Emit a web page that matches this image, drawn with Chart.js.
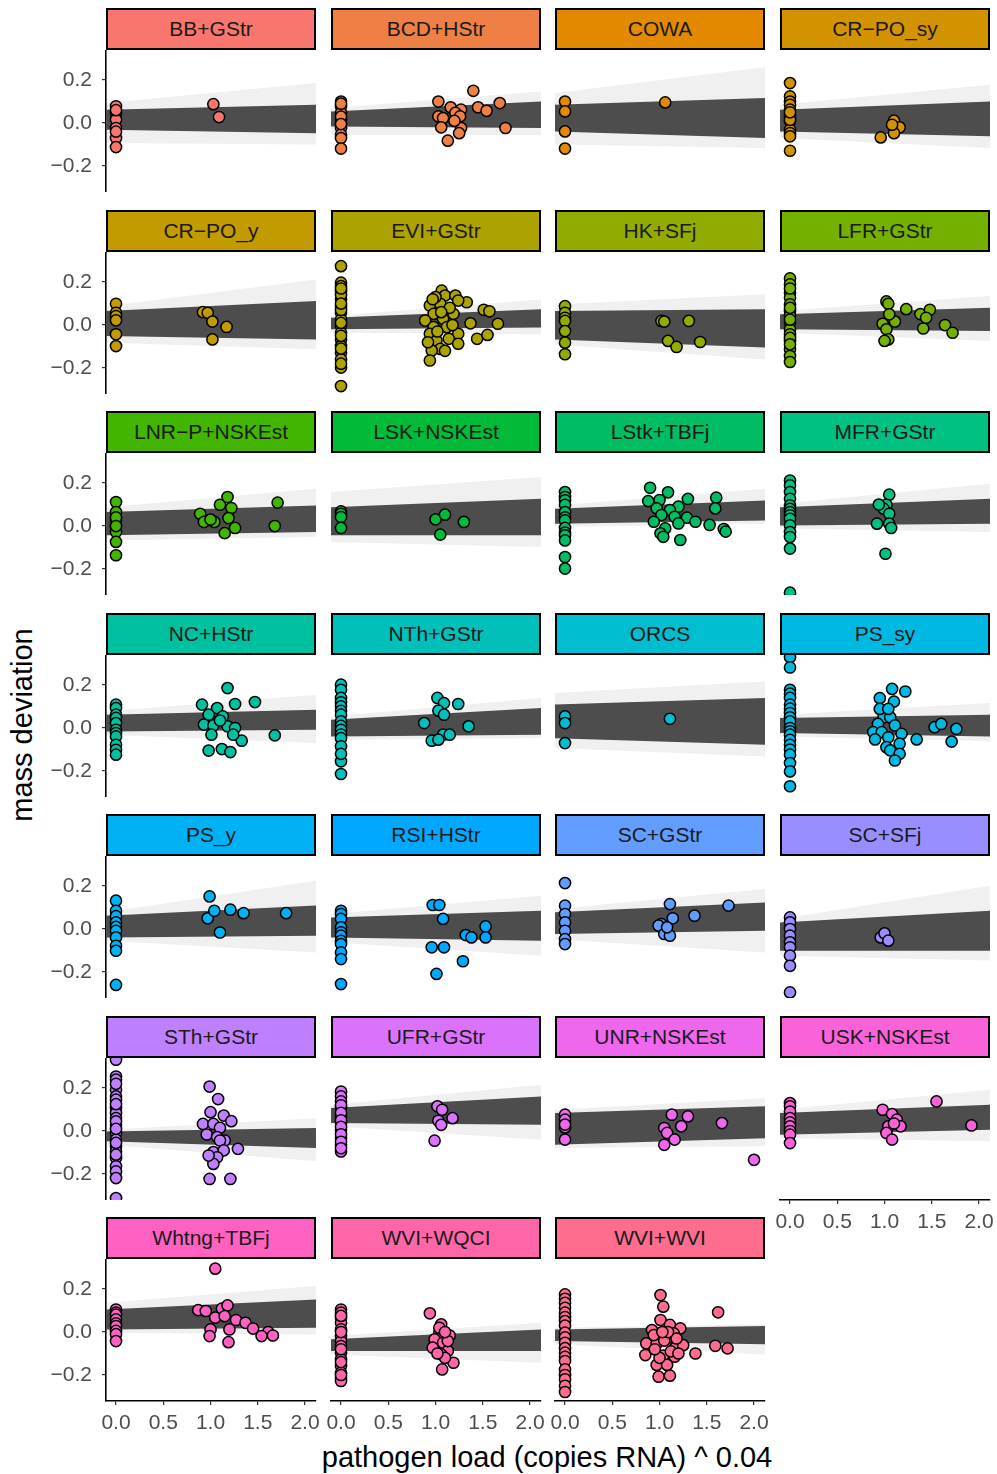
<!DOCTYPE html>
<html>
<head>
<meta charset="utf-8">
<script src="https://cdn.jsdelivr.net/npm/chart.js@4.4.0/dist/chart.umd.min.js"></script>
<style>
body { margin: 0; background: #fff; width: 997px; height: 1474px; position: relative; overflow: hidden; font-family: "Liberation Sans", Arial, sans-serif; }
.strip { position: absolute; box-sizing: border-box; border: 2px solid #000; width: 210px; height: 42px; text-align: center; line-height: 38px; font-size: 21px; color: #1a1a1a; white-space: nowrap; }
canvas { position: absolute; }
.ttl { position: absolute; font-size: 29px; color: #000; white-space: nowrap; }
</style>
</head>
<body>
<div class="ttl" style="left:22px;top:725px;transform:translate(-50%,-50%) rotate(-90deg);">mass deviation</div>
<div class="ttl" style="left:547px;top:1457px;transform:translate(-50%,-50%);">pathogen load (copies RNA) ^ 0.04</div>
<script>
// facet labels, in panel order (4 per row)
var panelNames = ["BB+GStr", "BCD+HStr", "COWA", "CR\u2212PO_sy", "CR\u2212PO_y", "EVI+GStr", "HK+SFj", "LFR+GStr",
    "LNR\u2212P+NSKEst", "LSK+NSKEst", "LStk+TBFj", "MFR+GStr", "NC+HStr", "NTh+GStr", "ORCS", "PS_sy",
    "PS_y", "RSI+HStr", "SC+GStr", "SC+SFj", "STh+GStr", "UFR+GStr", "UNR+NSKEst", "USK+NSKEst",
    "Whtng+TBFj", "WVI+WQCI", "WVI+WVI"];

var xTickVals = [0, 0.5, 1, 1.5, 2];
var xTickLabels = ["0.0", "0.5", "1.0", "1.5", "2.0"];
var yTickVals = [-0.2, 0, 0.2];
var yTickLabels = ["\u22120.2", "0.0", "0.2"];

// points [load, mass deviation] per panel
var bbGStr = [[0,0.078],[0,0.047],[0,0.016],[0,-0.023],[0,-0.07],[0,-0.112],[0,0.06],[0,-0.04],[1.03,0.088],[1.09,0.028]];
var bcdHStr = [[0,0.10],[0,0.078],[0,0.047],[0,0.016],[0,-0.023],[0,-0.054],[0,-0.07],[0,-0.119],[0,0.09],[0,0.03],[0,-0.005],
    [1.03,0.10],[1.16,0.073],[1.27,0.062],[1.40,0.15],[1.68,0.093],[1.45,0.073],[1.54,0.057],[1.03,0.031],[1.21,0.047],[1.08,0.023],
    [1.26,0.031],[1.06,-0.02],[1.27,-0.023],[1.25,-0.047],[1.13,-0.082],[1.74,-0.023],[1.20,0.01]];
var cowa = [[0,0.10],[0,0.054],[0,-0.039],[0,-0.119],[1.06,0.096]];
var crPoSy = [[0,0.186],[0,0.124],[0,0.10],[0,0.085],[0,0.062],[0,0.039],[0,0.023],[0,0.008],[0,-0.031],[0,-0.047],[0,-0.062],[0,-0.129],[0,0.015],[0,0.05],
    [1.10,0.011],[1.16,-0.02],[1.10,-0.047],[0.96,-0.067],[1.08,-0.008]];
var crPoY = [[0,0.099],[0,0.057],[0,0.042],[0,0.022],[0,-0.043],[0,-0.098],[0.92,0.06],[0.97,0.057],[1.02,0.016],[1.17,-0.009],[1.02,-0.067]];
var eviGStr = [[0,0.274],[0,0.197],[0,0.181],[0,0.158],[0,0.119],[0,0.088],[0,0.057],[0,0.026],[0,-0.005],[0,-0.036],[0,-0.067],[0,-0.098],
    [0,-0.129],[0,-0.16],[0,-0.198],[0,-0.284],[0,0.14],[0,0.07],[0,0.01],[0,-0.05],[0,-0.11],[0,-0.18],[0,0.17],[0,0.10],
    [1.065,0.16],[1.10,0.137],[1.21,0.137],[1.33,0.106],[1.24,0.114],[0.94,0.091],[1.05,0.099],[0.98,0.052],[1.08,0.029],[1.19,0.052],
    [0.89,0.021],[0.98,-0.01],[1.12,-0.01],[1.24,-0.041],[0.94,-0.041],[1.01,-0.072],[1.14,-0.064],[1.24,-0.087],[1.05,-0.111],[0.96,-0.119],
    [0.94,-0.165],[1.51,0.071],[1.57,0.064],[1.37,0.008],[1.66,0.006],[1.44,-0.064],[1.55,-0.046],
    [1.00,0.13],[1.15,0.08],[1.02,-0.03],[1.10,-0.12],[0.97,0.12],[1.18,0.0],[0.92,-0.08],[1.06,0.06]];
var hkSFj = [[0,0.088],[0,0.057],[0,0.034],[0,0.019],[0,-0.028],[0,-0.082],[0,-0.136],
    [1.02,0.019],[1.05,0.016],[1.31,0.019],[1.09,-0.074],[1.18,-0.102],[1.43,-0.079]];
var lfrGStr = [[0,0.217],[0,0.189],[0,0.15],[0,0.127],[0,0.096],[0,0.065],[0,0.042],[0,0.011],[0,-0.02],[0,-0.043],[0,-0.074],[0,-0.113],
    [0,-0.144],[0,-0.172],[0,0.17],[0,0.08],[0,0.025],[0,-0.06],[0,-0.09],
    [1.02,0.11],[1.04,0.099],[1.23,0.074],[1.38,0.051],[1.48,0.071],[1.41,-0.016],[1.64,0.0],[1.72,-0.036],[0.98,0.006],[1.11,0.016],
    [1.02,-0.02],[1.04,-0.067],[1.00,-0.074],[1.44,0.034],[1.05,0.05]];
var lnrPNskest = [[0,0.112],[0,0.065],[0,0.026],[0,-0.005],[0,-0.028],[0,-0.074],[0,-0.136],[0,0.04],[0,0.0],
    [0.89,0.057],[0.93,0.019],[1.04,0.019],[1.10,0.099],[1.18,0.135],[1.22,0.084],[1.19,0.037],[1.26,-0.009],[1.15,-0.033],
    [1.71,0.109],[1.68,0.0],[1.00,0.03]];
var lskNskest = [[0,0.068],[0,0.057],[0,0.042],[0,-0.009],[1.00,0.031],[1.10,0.053],[1.30,0.019],[1.05,-0.04]];
var lstkTbfj = [[0,0.158],[0,0.135],[0,0.12],[0,0.099],[0,0.065],[0,0.04],[0,0.026],[0,-0.009],[0,-0.03],[0,-0.043],[0,-0.067],[0,-0.144],[0,-0.198],
    [0.90,0.178],[1.09,0.157],[1.00,0.121],[0.88,0.116],[1.20,0.09],[1.30,0.126],[0.97,0.082],[1.11,0.074],[1.02,0.051],[1.16,0.043],
    [1.29,0.039],[1.38,0.02],[0.94,0.02],[1.06,-0.011],[1.20,0.012],[1.01,-0.034],[1.04,-0.05],[1.22,-0.065],[1.60,0.132],[1.59,0.082],
    [1.53,0.005],[1.68,-0.014],[1.70,-0.026]];
var mfrGStr = [[0,0.212],[0,0.189],[0,0.158],[0,0.127],[0,0.096],[0,0.08],[0,0.065],[0,0.05],[0,0.034],[0,0.003],[0,-0.028],[0,-0.051],[0,-0.105],[0,-0.31],
    [1.05,0.146],[1.02,0.099],[0.99,0.081],[1.05,0.057],[0.92,0.011],[1.05,0.011],[1.07,-0.009],[1.01,-0.129],[0.94,0.10]];
var ncHStr = [[0,0.109],[0,0.093],[0,0.062],[0,0.047],[0,0.023],[0,-0.008],[0,-0.023],[0,-0.039],[0,-0.078],[0,-0.101],[0,-0.124],
    [0.91,0.109],[1.18,0.186],[1.26,0.112],[1.47,0.121],[1.07,0.093],[0.98,0.062],[1.13,0.054],[0.93,0.016],[1.03,0.012],[1.18,0.008],
    [1.26,0.0],[1.01,-0.031],[1.33,-0.059],[1.68,-0.034],[0.98,-0.105],[1.12,-0.098],[1.21,-0.112],[1.24,-0.031],[1.10,0.035]];
var nthGStr = [[0,0.202],[0,0.178],[0,0.14],[0,0.12],[0,0.101],[0,0.08],[0,0.062],[0,0.031],[0,0.01],[0,-0.008],[0,-0.03],[0,-0.047],
    [0,-0.085],[0,-0.155],[0,-0.214],[0,-0.12],
    [1.02,0.14],[1.09,0.116],[1.24,0.112],[1.03,0.081],[1.09,0.062],[0.88,0.023],[1.35,0.008],[1.08,-0.031],[0.96,-0.059],[1.03,-0.054],[1.15,-0.031]];
var orcs = [[0,0.054],[0,0.023],[0,-0.07],[1.11,0.043]];
var psSy = [[0,0.33],[0,0.282],[0,0.178],[0,0.16],[0,0.14],[0,0.109],[0,0.09],[0,0.07],[0,0.05],[0,0.031],[0,0.0],[0,-0.015],[0,-0.031],
    [0,-0.055],[0,-0.078],[0,-0.10],[0,-0.124],[0,-0.163],[0,-0.202],[0,-0.271],
    [1.08,0.182],[1.22,0.17],[0.95,0.139],[1.10,0.123],[0.99,0.05],[1.06,0.05],[0.93,0.019],[1.11,0.012],[0.88,-0.019],[0.97,-0.019],
    [1.04,-0.043],[1.18,-0.027],[1.34,-0.053],[0.90,-0.053],[1.02,-0.089],[1.16,-0.073],[1.06,-0.104],[1.16,-0.12],[1.11,-0.151],
    [1.53,0.004],[1.60,0.019],[1.76,-0.004],[1.71,-0.063],[0.95,0.089],[1.04,0.089]];
var psY = [[0,0.132],[0,0.085],[0,0.06],[0,0.031],[0,0.01],[0,-0.008],[0,-0.039],[0,-0.078],[0,-0.101],[0,-0.26],
    [0.99,0.152],[0.97,0.05],[1.04,0.085],[1.21,0.09],[1.35,0.074],[1.10,-0.016],[1.80,0.074]];
var rsiHStr = [[0,0.085],[0,0.07],[0,0.047],[0,0.008],[0,-0.015],[0,-0.031],[0,-0.055],[0,-0.07],[0,-0.109],[0,-0.14],[0,-0.256],
    [0.97,0.112],[1.04,0.112],[1.08,0.047],[1.53,0.012],[1.32,-0.028],[1.38,-0.039],[1.53,-0.039],[0.96,-0.085],[1.09,-0.085],[1.29,-0.15],[1.01,-0.209]];
var scGStr = [[0,0.214],[0,0.109],[0,0.07],[0,0.031],[0,-0.008],[0,-0.047],[0,-0.07],
    [1.11,0.116],[1.73,0.109],[1.37,0.062],[1.14,0.05],[1.02,0.023],[0.99,0.016],[1.05,-0.023],[1.11,-0.031],[1.08,0.008]];
var scSFj = [[0,0.054],[0,0.031],[0,0.0],[0,-0.031],[0,-0.062],[0,-0.085],[0,-0.124],[0,-0.171],[0,-0.295],
    [0.96,-0.039],[1.00,-0.02],[1.04,-0.054]];
var sthGStr = [[0,0.332],[0,0.254],[0,0.239],[0,0.192],[0,0.161],[0,0.146],[0,0.107],[0,0.084],[0,0.06],[0,0.029],[0,-0.009],[0,-0.04],
    [0,-0.071],[0,-0.095],[0,-0.126],[0,-0.164],[0,-0.188],[0,-0.219],[0,-0.312],[0,0.22],[0,0.125],[0,0.045],[0,0.01],[0,-0.055],[0,-0.11],
    [0.99,0.207],[1.08,0.149],[1.00,0.088],[1.14,0.072],[1.22,0.046],[0.92,0.033],[1.03,0.033],[1.10,0.015],[0.96,-0.016],[1.07,-0.028],
    [1.15,-0.044],[1.10,-0.044],[1.29,-0.083],[1.03,-0.098],[1.14,-0.09],[1.07,-0.122],[1.03,-0.153],[0.99,-0.223],[1.21,-0.223],[0.98,-0.114]];
var ufrGStr = [[0,0.184],[0,0.161],[0,0.138],[0,0.107],[0,0.068],[0,0.037],[0,0.006],[0,-0.033],[0,-0.064],[0,-0.095],[0,0.12],[0,0.085],
    [0,0.05],[0,0.02],[0,-0.015],[0,-0.05],[0,-0.08],
    [1.02,0.115],[1.07,0.099],[1.18,0.06],[1.03,0.048],[1.06,0.029],[0.99,-0.045]];
var unrNskest = [[0,0.076],[0,0.053],[0,0.017],[0,-0.04],[0,0.03],
    [1.13,0.076],[1.30,0.068],[1.05,0.014],[1.23,0.022],[1.08,-0.009],[1.16,-0.04],[1.05,-0.064],[1.66,0.037],[2.00,-0.134]];
var uskNskest = [[0,0.13],[0,0.115],[0,0.091],[0,0.06],[0,0.04],[0,0.022],[0,0.0],[0,-0.017],[0,-0.056],
    [0.98,0.099],[1.08,0.079],[1.13,0.053],[1.04,0.022],[1.17,0.022],[1.02,-0.009],[1.08,-0.04],[1.55,0.138],[1.92,0.026],[1.10,0.035]];
var whtngTbfj = [[0,0.105],[0,0.09],[0,0.081],[0,0.059],[0,0.04],[0,0.028],[0,0.005],[0,-0.01],[0,-0.042],
    [1.05,0.295],[0.87,0.102],[0.95,0.098],[1.12,0.109],[1.18,0.124],[1.05,0.067],[1.15,0.074],[1.27,0.056],[1.37,0.043],[1.00,0.012],
    [1.20,0.012],[1.45,0.016],[1.61,0.0],[1.54,-0.019],[1.66,-0.016],[0.99,-0.019],[1.19,-0.047]];
var wviWqci = [[0,0.105],[0,0.09],[0,0.067],[0,0.043],[0,0.012],[0,-0.019],[0,-0.042],[0,-0.065],[0,-0.096],[0,-0.127],[0,-0.158],[0,-0.189],
    [0,-0.212],[0,-0.228],[0,0.075],[0,0.0],[0,-0.08],[0,-0.14],[0,-0.20],
    [0.94,0.087],[1.06,0.036],[1.15,-0.016],[1.04,-0.003],[0.99,-0.034],[1.08,-0.05],[0.97,-0.073],[1.13,-0.088],[1.06,-0.104],[1.19,-0.143],
    [1.07,-0.174],[1.13,-0.042],[1.04,0.02],[1.10,-0.12],[1.02,-0.10],[1.10,0.0]];
var wviWvi = [[0,0.175],[0,0.155],[0,0.136],[0,0.113],[0,0.09],[0,0.07],[0,0.051],[0,0.03],[0,-0.003],[0,-0.025],[0,-0.05],[0,-0.075],
    [0,-0.096],[0,-0.115],[0,-0.135],[0,-0.174],[0,-0.20],[0,-0.22],[0,-0.25],[0,-0.279],
    [1.01,0.172],[1.04,0.118],[1.01,0.056],[1.11,0.033],[1.22,0.017],[0.92,0.009],[0.86,-0.053],[0.97,-0.053],[1.08,-0.03],[1.16,-0.076],
    [1.25,-0.061],[1.38,-0.10],[0.85,-0.107],[1.04,-0.11],[1.16,-0.115],[0.97,-0.153],[1.08,-0.153],[0.99,-0.208],[1.11,-0.203],[1.62,0.092],
    [1.59,-0.064],[1.72,-0.076],[0.94,-0.014],[1.15,-0.006],[1.05,-0.04],[1.12,-0.09],[1.00,-0.12],[1.18,-0.03],[0.95,-0.08],[1.09,0.0],
    [1.20,-0.10],[1.03,0.0]];

var panelPoints = [bbGStr, bcdHStr, cowa, crPoSy, crPoY, eviGStr, hkSFj, lfrGStr, lnrPNskest, lskNskest, lstkTbfj, mfrGStr,
    ncHStr, nthGStr, orcs, psSy, psY, rsiHStr, scGStr, scSFj, sthGStr, ufrGStr, unrNskest, uskNskest, whtngTbfj, wviWqci, wviWvi];

// band of posterior lines: [left top, left bottom, right top, right bottom]
var coreBand = [[0.062,-0.031,0.085,-0.047],[0.054,-0.016,0.10,-0.023],[0.085,-0.039,0.116,-0.07],[0.062,-0.039,0.10,-0.062],
    [0.065,-0.051,0.112,-0.067],[0.034,-0.02,0.073,-0.012],[0.065,-0.067,0.073,-0.105],[0.05,-0.02,0.081,-0.028],
    [0.065,-0.043,0.096,-0.028],[0.088,-0.043,0.127,-0.043],[0.081,0.011,0.119,0.026],[0.088,0.003,0.127,0.011],
    [0.062,-0.016,0.085,-0.008],[0.039,-0.039,0.093,-0.031],[0.109,-0.047,0.14,-0.078],[0.047,-0.023,0.062,-0.039],
    [0.062,-0.039,0.109,-0.031],[0.054,-0.039,0.085,-0.054],[0.078,-0.023,0.124,-0.008],[0.031,-0.101,0.085,-0.101],
    [-0.002,-0.048,0.014,-0.079],[0.107,0.037,0.161,0.029],[0.084,-0.064,0.115,-0.033],[0.084,-0.017,0.122,0.006],
    [0.105,0.012,0.152,0.02],[-0.034,-0.088,0.012,-0.088],[0.012,-0.042,0.028,-0.057]];
var fringeBand = [[0.093,-0.093,0.186,-0.10],[0.07,-0.054,0.147,-0.057],[0.14,-0.10,0.26,-0.116],[0.085,-0.07,0.178,-0.116],
    [0.088,-0.082,0.212,-0.113],[0.042,-0.036,0.119,-0.043],[0.096,-0.09,0.143,-0.16],[0.065,-0.036,0.135,-0.074],
    [0.088,-0.067,0.174,-0.051],[0.158,-0.074,0.228,-0.098],[0.096,-0.005,0.174,0.011],[0.104,-0.012,0.197,-0.028],
    [0.078,-0.031,0.155,-0.07],[0.054,-0.054,0.14,-0.047],[0.163,-0.093,0.217,-0.132],[0.062,-0.039,0.116,-0.062],
    [0.078,-0.054,0.225,-0.109],[0.07,-0.062,0.155,-0.124],[0.093,-0.047,0.186,-0.109],[0.047,-0.124,0.202,-0.147],
    [0.006,-0.064,0.06,-0.141],[0.122,0.022,0.215,-0.04],[0.099,-0.079,0.153,-0.071],[0.099,-0.033,0.192,-0.048],
    [0.136,-0.003,0.214,-0.011],[-0.019,-0.104,0.043,-0.143],[0.02,-0.057,0.036,-0.104]];

var xMin = -0.106, xMax = 2.116, yMin = -0.321, yMax = 0.340;

var colLeft = [106, 331, 555, 780];
var panelW = 210, panelH = 142, stripH = 42;
var FONT = "'Liberation Sans', Arial, sans-serif";

// ggplot hue palette (hcl, c=100, l=65)
function hcl(h, c, l) {
    var hr = h * Math.PI / 180;
    var u = c * Math.cos(hr), v = c * Math.sin(hr);
    var Xn = 95.047, Yn = 100, Zn = 108.883;
    var Y = l > 8 ? Yn * Math.pow((l + 16) / 116, 3) : Yn * l / 903.3;
    var t = Xn + 15 * Yn + 3 * Zn;
    var up = u / (13 * l) + 4 * Xn / t, vp = v / (13 * l) + 9 * Yn / t;
    var X = 9 * Y * up / (4 * vp);
    var Z = -X / 3 - 5 * Y + 3 * Y / vp;
    X /= 100; Y /= 100; Z /= 100;
    var rgb = [3.240479 * X - 1.537150 * Y - 0.498535 * Z,
              -0.969256 * X + 1.875992 * Y + 0.041556 * Z,
               0.055648 * X - 0.204043 * Y + 1.057311 * Z];
    return "rgb(" + rgb.map(function (k) {
        k = k <= 0.0031308 ? 12.92 * k : 1.055 * Math.pow(k, 1 / 2.4) - 0.055;
        return Math.round(Math.max(0, Math.min(1, k)) * 255);
    }).join(",") + ")";
}

function bandLine(a, b, fill, bg, order) {
    return {
        type: "line", data: [{ x: xMin, y: a }, { x: xMax, y: b }],
        fill: fill, backgroundColor: bg, borderColor: "rgba(0,0,0,0)", borderWidth: 0,
        pointRadius: 0, order: order
    };
}

panelNames.forEach(function (name, i) {
    var r = Math.floor(i / 4), c = i % 4;
    var bottom = r == 6 || (r == 5 && c == 3);
    var left = c == 0;
    var top = Math.round(8 + 201.5 * r);
    var colour = hcl(15 + i * 360 / 27, 100, 65);

    var strip = document.createElement("div");
    strip.className = "strip";
    strip.style.left = colLeft[c] + "px";
    strip.style.top = top + "px";
    strip.style.background = colour;
    strip.textContent = name;
    document.body.appendChild(strip);

    var padL = left ? 80 : 20, padR = 20, padB = bottom ? 45 : 0;
    var w = panelW + padL + padR, h = panelH + padB;
    var cv = document.createElement("canvas");
    cv.width = w; cv.height = h;
    cv.style.width = w + "px"; cv.style.height = h + "px";
    cv.style.left = (colLeft[c] - padL) + "px";
    cv.style.top = (top + stripH) + "px";
    document.body.appendChild(cv);

    var core = coreBand[i], fr = fringeBand[i];

    new Chart(cv, {
        type: "scatter",
        data: {
            datasets: [
                {
                    type: "scatter",
                    data: panelPoints[i].map(function (p) { return { x: p[0], y: p[1] }; }),
                    backgroundColor: colour, borderColor: "#000", borderWidth: 1.5,
                    pointRadius: 5.6, order: 0
                },
                bandLine(core[0], core[2], "+1", "#4d4d4d", 1),
                bandLine(core[1], core[3], false, "#4d4d4d", 1),
                bandLine(fr[0], fr[2], "+1", "rgba(60,60,60,0.08)", 2),
                bandLine(fr[1], fr[3], false, "rgba(60,60,60,0.08)", 2)
            ]
        },
        options: {
            responsive: false,
            maintainAspectRatio: false,
            animation: false,
            devicePixelRatio: 1,
            layout: { autoPadding: false, padding: { left: left ? 0 : 20, right: 20, top: 0, bottom: 0 } },
            plugins: { legend: { display: false }, tooltip: { enabled: false } },
            scales: {
                x: {
                    type: "linear", min: xMin, max: xMax, display: bottom,
                    afterFit: function (s) {
                        if (bottom) s.height = 45;
                        s.paddingLeft = 0; s.paddingRight = 0;
                    },
                    afterBuildTicks: function (s) { s.ticks = xTickVals.map(function (v) { return { value: v }; }); },
                    ticks: {
                        autoSkip: false, maxRotation: 0, padding: 6, color: "#4d4d4d",
                        font: { family: FONT, size: 21 },
                        callback: function (v, idx) { return xTickLabels[idx]; }
                    },
                    grid: { display: true, drawOnChartArea: false, drawTicks: true, tickLength: 4, color: "#333", lineWidth: 1.2 },
                    border: { display: true, color: "#000", width: 1.6 }
                },
                y: {
                    type: "linear", min: yMin, max: yMax, display: left,
                    afterFit: function (s) {
                        if (left) s.width = 80;
                        s.paddingTop = 0; s.paddingBottom = 0;
                    },
                    afterBuildTicks: function (s) { s.ticks = yTickVals.map(function (v) { return { value: v }; }); },
                    ticks: {
                        autoSkip: false, padding: 10, color: "#4d4d4d",
                        font: { family: FONT, size: 21 },
                        callback: function (v, idx) { return yTickLabels[idx]; }
                    },
                    grid: { display: true, drawOnChartArea: false, drawTicks: true, tickLength: 4, color: "#333", lineWidth: 1.2 },
                    border: { display: true, color: "#000", width: 1.6 }
                }
            }
        }
    });
});
</script>
</body>
</html>
